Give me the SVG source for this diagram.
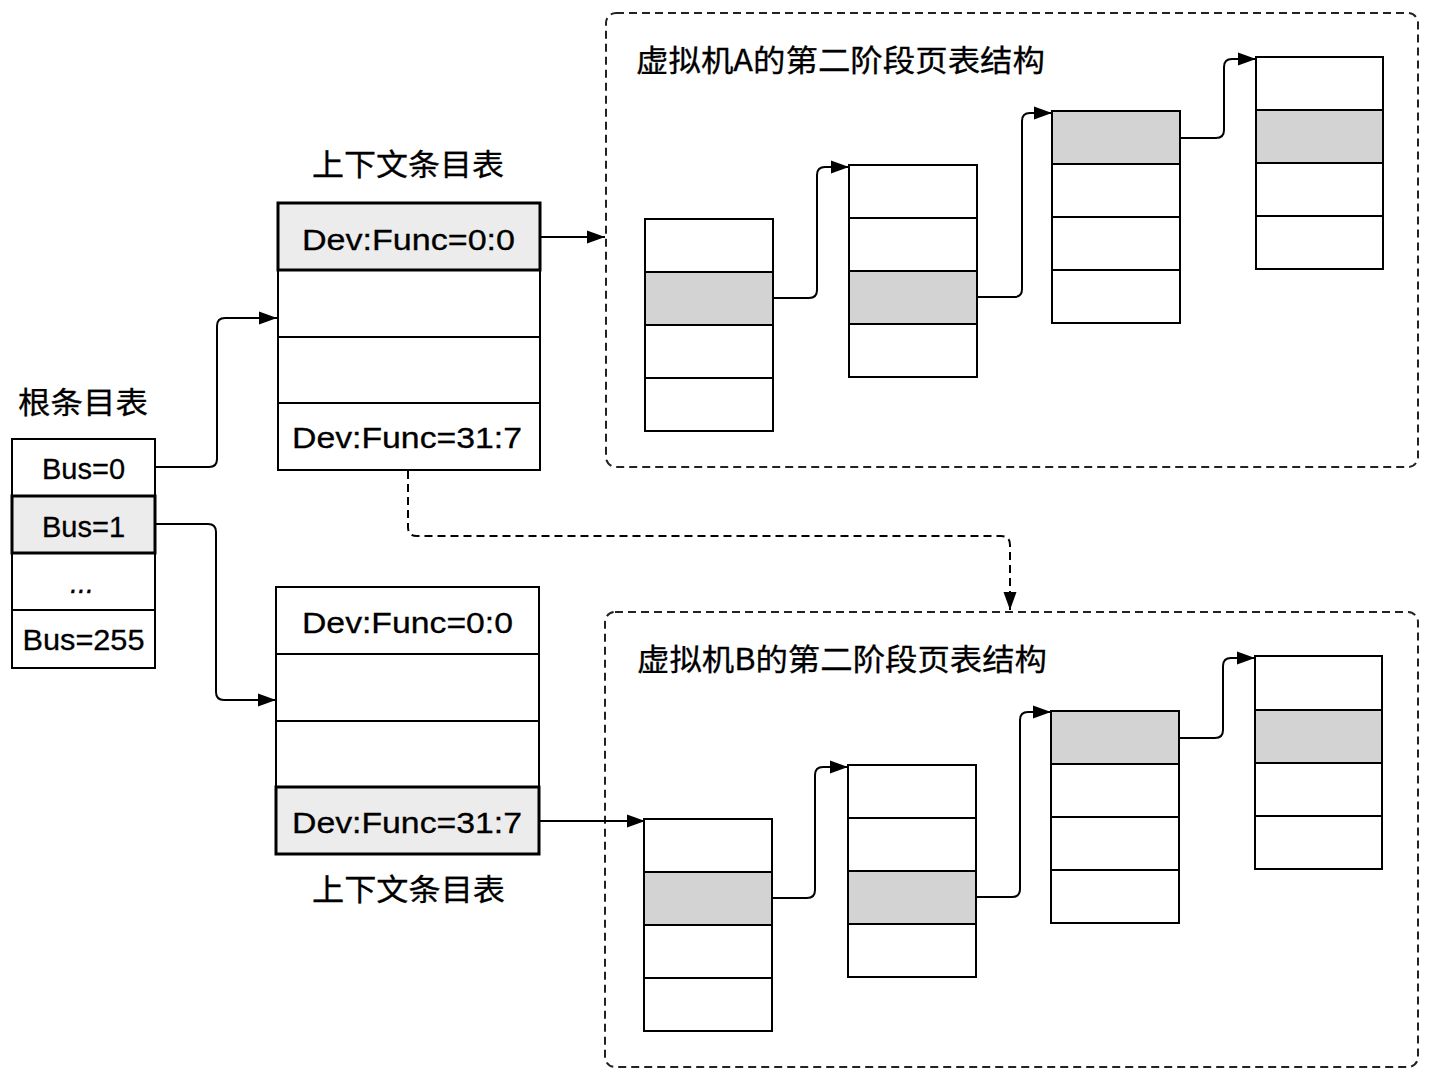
<svg xmlns="http://www.w3.org/2000/svg" width="1432" height="1084" viewBox="0 0 1432 1084">
<style>
.bg{fill:#ffffff}
.cell{fill:#ffffff;stroke:#000;stroke-width:2}
.sel{fill:#ececec;stroke:#000;stroke-width:3}
.pg{fill:#d3d3d3;stroke:#000;stroke-width:2}
.t{font-family:"Liberation Sans","Noto Sans CJK SC",Arial,sans-serif;font-size:29px;fill:#000;stroke:#000;stroke-width:0.3}
.cjk{font-family:"Noto Sans CJK SC","Liberation Sans",sans-serif;font-size:30px;fill:#000;stroke:#000;stroke-width:0.3}
.box{fill:none;stroke:#222;stroke-width:2;stroke-dasharray:8 5}
.wire{fill:none;stroke:#000;stroke-width:2}
.dwire{fill:none;stroke:#000;stroke-width:2;stroke-dasharray:8 5}
</style>
<defs>
<marker id="arr" markerUnits="userSpaceOnUse" markerWidth="20" markerHeight="14" refX="18" refY="7" orient="auto" overflow="visible">
<path d="M0,0.5 L18,7 L0,13.5 z" fill="#000"/>
</marker>
</defs>
<rect class="bg" x="0" y="0" width="1432" height="1084"/>

<g id="vmA">
<rect class="box" x="606" y="13" width="812" height="454" rx="10"/>
<text class="cjk" x="636" y="71" textLength="409" lengthAdjust="spacingAndGlyphs">虚拟机A的第二阶段页表结构</text>
</g>
<g id="vmB">
<rect class="box" x="605" y="612" width="813" height="455" rx="10"/>
<text class="cjk" x="637" y="670" textLength="410" lengthAdjust="spacingAndGlyphs">虚拟机B的第二阶段页表结构</text>
</g>

<g id="root">
<text class="cjk" x="18" y="413" textLength="130" lengthAdjust="spacingAndGlyphs">根条目表</text>
<rect class="cell" x="12" y="439" width="143" height="57"/>
<rect class="cell" x="12" y="553" width="143" height="57"/>
<rect class="cell" x="12" y="610" width="143" height="58"/>
<rect class="sel" x="12" y="496" width="143" height="57"/>
<text class="t" x="83.5" y="479" text-anchor="middle">Bus=0</text>
<text class="t" x="83.5" y="537" text-anchor="middle">Bus=1</text>
<text class="t" x="82" y="593" text-anchor="middle" font-style="italic">...</text>
<text class="t" x="83.5" y="650" text-anchor="middle" textLength="122" lengthAdjust="spacingAndGlyphs">Bus=255</text>
</g>

<g id="ctxA">
<text class="cjk" x="312" y="175" textLength="192" lengthAdjust="spacingAndGlyphs">上下文条目表</text>
<rect class="cell" x="278" y="270" width="262" height="67"/>
<rect class="cell" x="278" y="337" width="262" height="66"/>
<rect class="cell" x="278" y="403" width="262" height="67"/>
<rect class="sel" x="278" y="203" width="262" height="67"/>
<text class="t" x="302" y="250" textLength="213" lengthAdjust="spacingAndGlyphs">Dev:Func=0:0</text>
<text class="t" x="292" y="448" textLength="230" lengthAdjust="spacingAndGlyphs">Dev:Func=31:7</text>
</g>

<g id="ctxB">
<rect class="cell" x="276" y="587" width="263" height="67"/>
<rect class="cell" x="276" y="654" width="263" height="67"/>
<rect class="cell" x="276" y="721" width="263" height="66"/>
<rect class="sel" x="276" y="787" width="263" height="67"/>
<text class="t" x="302" y="633" textLength="211" lengthAdjust="spacingAndGlyphs">Dev:Func=0:0</text>
<text class="t" x="292" y="833" textLength="230" lengthAdjust="spacingAndGlyphs">Dev:Func=31:7</text>
<text class="cjk" x="312" y="900" textLength="193" lengthAdjust="spacingAndGlyphs">上下文条目表</text>
</g>

<g id="ptA1">
<rect class="cell" x="645" y="219" width="128" height="53"/>
<rect class="pg" x="645" y="272" width="128" height="53"/>
<rect class="cell" x="645" y="325" width="128" height="53"/>
<rect class="cell" x="645" y="378" width="128" height="53"/>
</g>
<g id="ptA2">
<rect class="cell" x="849" y="165" width="128" height="53"/>
<rect class="cell" x="849" y="218" width="128" height="53"/>
<rect class="pg" x="849" y="271" width="128" height="53"/>
<rect class="cell" x="849" y="324" width="128" height="53"/>
</g>
<g id="ptA3">
<rect class="pg" x="1052" y="111" width="128" height="53"/>
<rect class="cell" x="1052" y="164" width="128" height="53"/>
<rect class="cell" x="1052" y="217" width="128" height="53"/>
<rect class="cell" x="1052" y="270" width="128" height="53"/>
</g>
<g id="ptA4">
<rect class="cell" x="1256" y="57" width="127" height="53"/>
<rect class="pg" x="1256" y="110" width="127" height="53"/>
<rect class="cell" x="1256" y="163" width="127" height="53"/>
<rect class="cell" x="1256" y="216" width="127" height="53"/>
</g>

<g id="ptB1">
<rect class="cell" x="644" y="819" width="128" height="53"/>
<rect class="pg" x="644" y="872" width="128" height="53"/>
<rect class="cell" x="644" y="925" width="128" height="53"/>
<rect class="cell" x="644" y="978" width="128" height="53"/>
</g>
<g id="ptB2">
<rect class="cell" x="848" y="765" width="128" height="53"/>
<rect class="cell" x="848" y="818" width="128" height="53"/>
<rect class="pg" x="848" y="871" width="128" height="53"/>
<rect class="cell" x="848" y="924" width="128" height="53"/>
</g>
<g id="ptB3">
<rect class="pg" x="1051" y="711" width="128" height="53"/>
<rect class="cell" x="1051" y="764" width="128" height="53"/>
<rect class="cell" x="1051" y="817" width="128" height="53"/>
<rect class="cell" x="1051" y="870" width="128" height="53"/>
</g>
<g id="ptB4">
<rect class="cell" x="1255" y="656" width="127" height="54"/>
<rect class="pg" x="1255" y="710" width="127" height="53"/>
<rect class="cell" x="1255" y="763" width="127" height="53"/>
<rect class="cell" x="1255" y="816" width="127" height="53"/>
</g>

<g id="connectors">
<path class="wire" d="M155,467 L209,467 Q217,467 217,459 L217,326 Q217,318 225,318 L277,318" marker-end="url(#arr)"/>
<path class="wire" d="M155,524 L208,524 Q216,524 216,532 L216,692 Q216,700 224,700 L276,700" marker-end="url(#arr)"/>
<path class="wire" d="M541,237 L605,237" marker-end="url(#arr)"/>
<path class="wire" d="M540,821 L645,821" marker-end="url(#arr)"/>
<path class="dwire" d="M408,471 L408,527 Q408,536 417,536 L1001,536 Q1010,536 1010,545 L1010,610" marker-end="url(#arr)"/>
<path class="wire" d="M773,298 L809,298 Q817,298 817,290 L817,175 Q817,167 825,167 L849,167" marker-end="url(#arr)"/>
<path class="wire" d="M977,297 L1014,297 Q1022,297 1022,289 L1022,121 Q1022,113 1030,113 L1052,113" marker-end="url(#arr)"/>
<path class="wire" d="M1180,138 L1216,138 Q1224,138 1224,130 L1224,67 Q1224,59 1232,59 L1256,59" marker-end="url(#arr)"/>
<path class="wire" d="M772,898 L807,898 Q815,898 815,890 L815,775 Q815,767 823,767 L848,767" marker-end="url(#arr)"/>
<path class="wire" d="M976,897 L1012,897 Q1020,897 1020,889 L1020,720 Q1020,712 1028,712 L1051,712" marker-end="url(#arr)"/>
<path class="wire" d="M1179,738 L1215,738 Q1223,738 1223,730 L1223,666 Q1223,658 1231,658 L1255,658" marker-end="url(#arr)"/>
</g>
</svg>
